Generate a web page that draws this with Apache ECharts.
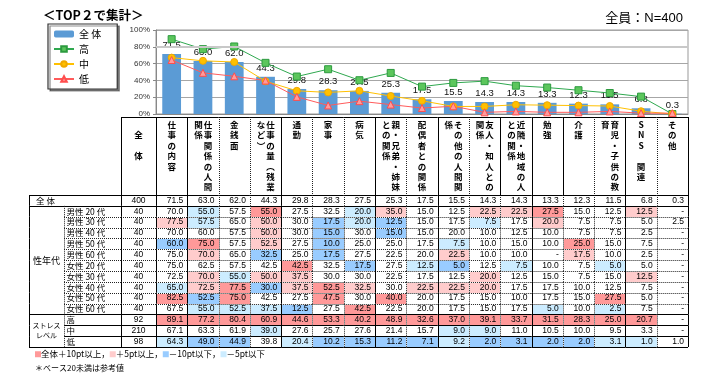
<!DOCTYPE html>
<html><head><meta charset="utf-8">
<script src="https://cdn.jsdelivr.net/npm/echarts@6/dist/echarts.min.js"></script>
<style>html,body{margin:0;padding:0;background:#fff}#c{width:718px;height:373px}</style>
</head><body><div id="c"></div>
<script>
// ---------- DATA ----------
const categories = ['仕事の内容','仕事関係の人間関係','金銭面','仕事の量（残業など）','通勤','家事','病気','親・兄弟・姉妹との関係','配偶者との関係','その他の人間関係','友人・知人との関係','近隣・地域の人との関係','勉強','介護','育児・子供の教育','SNS関連','その他'];
// vertical header text, columns right-to-left
const headerLines = [['仕事の内容'],['仕事関係の人間','関係'],['金銭面'],['仕事の量︵残業','など︶'],['通勤'],['家事'],['病気'],['親・兄弟・姉妹','との関係'],['配偶者との関係'],['その他の人間関','係'],['友人・知人との','関係'],['近隣・地域の人','との関係'],['勉強'],['介護'],['育児・子供の教','育'],['SNS 関連'],['その他']];
const yTickLabels = ['0%','20%','40%','60%','80%','100%'];

const totalAll = [71.5,63.0,62.0,44.3,29.8,28.3,27.5,25.3,17.5,15.5,14.3,14.3,13.3,12.3,11.5,6.8,0.3];
const male20   = [70.0,55.0,57.5,55.0,27.5,32.5,20.0,35.0,15.0,12.5,22.5,22.5,27.5,15.0,12.5,12.5,0];
const male30   = [77.5,57.5,65.0,50.0,30.0,17.5,20.0,12.5,15.0,17.5,7.5,17.5,20.0,7.5,7.5,5.0,2.5];
const male40   = [70.0,60.0,57.5,50.0,30.0,15.0,30.0,15.0,15.0,20.0,10.0,12.5,10.0,7.5,7.5,2.5,0];
const male50   = [60.0,75.0,57.5,52.5,27.5,10.0,25.0,25.0,17.5,7.5,10.0,15.0,10.0,25.0,15.0,7.5,0];
const male60   = [75.0,70.0,65.0,32.5,25.0,17.5,27.5,22.5,20.0,22.5,10.0,10.0,0,17.5,10.0,2.5,0];
const female20 = [75.0,62.5,57.5,42.5,42.5,32.5,17.5,27.5,12.5,5.0,12.5,7.5,10.0,7.5,5.0,5.0,0];
const female30 = [72.5,70.0,55.0,50.0,37.5,30.0,30.0,22.5,17.5,12.5,20.0,12.5,15.0,7.5,15.0,12.5,0];
const female40 = [65.0,72.5,77.5,30.0,37.5,52.5,32.5,30.0,22.5,22.5,20.0,17.5,17.5,10.0,12.5,7.5,0];
const female50 = [82.5,52.5,75.0,42.5,27.5,47.5,30.0,40.0,20.0,17.5,15.0,10.0,17.5,15.0,27.5,5.0,0];
const female60 = [67.5,55.0,52.5,37.5,12.5,27.5,42.5,22.5,20.0,17.5,15.0,17.5,5.0,10.0,2.5,7.5,0];
const stressHigh = [89.1,77.2,80.4,60.9,44.6,53.3,40.2,48.9,32.6,37.0,39.1,33.7,31.5,28.3,25.0,20.7,0];
const stressMid  = [67.1,63.3,61.9,39.0,27.6,25.7,27.6,21.4,15.7,9.0,9.0,11.0,10.5,10.0,9.5,3.3,0];
const stressLow  = [64.3,49.0,44.9,39.8,20.4,10.2,15.3,11.2,7.1,9.2,2.0,3.1,2.0,2.0,3.1,1.0,1.0];

const rowLabels = ['全 体','男性 20 代','男性 30 代','男性 40 代','男性 50 代','男性 60 代','女性 20 代','女性 30 代','女性 40 代','女性 50 代','女性 60 代','高','中','低'];
const rowN = [400,40,40,40,40,40,40,40,40,40,40,92,210,98];
const rowValues = [totalAll,male20,male30,male40,male50,male60,female20,female30,female40,female50,female60,stressHigh,stressMid,stressLow];
const groupNames = ['性年代','ストレス\nレベル'];
const groupFrom = [1,11];
const groupTo = [10,13];

// ---------- STYLE ----------
const JP = '"Noto Sans CJK JP", sans-serif';
const NUM = '"Liberation Sans", "Noto Sans CJK JP", sans-serif';
const C_R10 = '#FF9999', C_R5 = '#FFCCCC', C_B10 = '#99CCFF', C_B5 = '#CCECFF';
const N_W = 35, LABEL_W = 57, GROUP_W = 35;
const headSolid = [0,3,6,8,10,11,12,14,16];
const bodySolid = [0,3,6,8,11,14,16];
const GL = 156, GR = 30;

function hline(x1, x2, y, solid) {
  y = Math.round(y) + 0.5;
  const st = {stroke:'#000', lineWidth:1};
  if (!solid) { st.lineDash = [1,1]; st.stroke = '#222'; }
  return {type:'line', silent:true, shape:{x1:x1, y1:y, x2:x2, y2:y}, style:st};
}
function vline(x, y1, y2, solid) {
  x = Math.round(x) + 0.5;
  const st = {stroke:'#000', lineWidth:1};
  if (!solid) { st.lineDash = [1,1]; st.stroke = '#222'; }
  return {type:'line', silent:true, shape:{x1:x, y1:y1, x2:x, y2:y2}, style:st};
}
function bottomSolid(r) { return r === 0 || r >= 10; }
function cellColor(r, c, v) {
  if (r === 0 || v === 0) return null;
  const d = Math.round((v - totalAll[c]) * 10) / 10;
  if (d >= 10) return C_R10;
  if (d >= 5) return C_R5;
  if (d <= -10) return C_B10;
  if (d <= -5) return C_B5;
  return null;
}

const bodyData = [];
rowValues.forEach((arr, r) => arr.forEach((v, c) => bodyData.push([c, r, v])));

const chart = echarts.init(document.getElementById('c'), null, {renderer:'canvas'});
chart.setOption({
  animation: false,
  backgroundColor: '#fff',
  title: [
    {text:'＜TOP２で集計＞', left:38, top:4, textStyle:{fontFamily:JP, fontSize:12.5, fontWeight:'bold', color:'#000'}},
    {text:'全員：N=400', right:30, top:7, textStyle:{fontFamily:NUM, fontSize:13, fontWeight:'normal', color:'#000'}},
    {text:'{a|}全体＋10pt以上，{b|}＋5pt以上，{c|}－10pt以下，{d|}－5pt以下', left:30, top:345,
     textStyle:{fontFamily:JP, fontSize:8.5, fontWeight:'normal', color:'#000', rich:{
       a:{backgroundColor:C_R10, width:6, height:6},
       b:{backgroundColor:C_R5, width:6, height:6},
       c:{backgroundColor:C_B10, width:6, height:6},
       d:{backgroundColor:C_B5, width:6, height:6}}}},
    {text:'＊ベース20未満は参考値', left:30, top:359, textStyle:{fontFamily:JP, fontSize:8, fontWeight:'normal', color:'#000'}}
  ],
  legend: {
    orient:'vertical', left:48, top:24, data:['全 体','高','中','低'],
    itemWidth:20, itemHeight:7, itemGap:3, padding:[4,16,4,5],
    borderColor:'#333', borderWidth:1.2, backgroundColor:'#fff',
    shadowColor:'rgba(0,0,0,0.45)', shadowOffsetX:2, shadowOffsetY:2, shadowBlur:0,
    textStyle:{fontFamily:JP, fontSize:10, lineHeight:12, color:'#000'}
  },
  grid: [
    {left:GL, right:GR, top:30, height:84, show:true, borderColor:'#999', borderWidth:1},
    {left:GL, right:GR, top:117, height:78},
    {left:GL, right:GR, top:195, height:152}
  ],
  xAxis: [
    {type:'category', gridIndex:0, data:categories, axisLabel:{show:false}, axisTick:{show:false}, axisLine:{lineStyle:{color:'#888'}}},
    {type:'category', gridIndex:1, data:categories, show:false},
    {type:'category', gridIndex:2, data:categories, show:false}
  ],
  yAxis: [
    {type:'value', gridIndex:0, min:0, max:100, interval:20,
     axisLabel:{fontFamily:NUM, fontSize:8, color:'#333', margin:6, formatter:(v)=>yTickLabels[v/20]},
     axisLine:{show:true, lineStyle:{color:'#888'}}, axisTick:{show:true, length:3, lineStyle:{color:'#888'}},
     splitLine:{lineStyle:{color:'#A6A6A6', width:1}}},
    {type:'category', gridIndex:1, data:['header'], show:false},
    {type:'category', gridIndex:2, data:rowLabels, inverse:true, show:false}
  ],
  series: [
    {name:'全 体', type:'bar', xAxisIndex:0, yAxisIndex:0, data:totalAll, barWidth:'60%',
     itemStyle:{color:'#5B9BD5'},
     label:{show:true, position:'top', distance:4, fontFamily:NUM, fontSize:9.5, color:'#111', formatter:(p)=>p.value.toFixed(1)},
     markLine:{silent:true, symbol:'none', label:{show:false}, lineStyle:{color:'#C8C8C8', width:2, type:'solid'}, data:[{yAxis:80}]},
     z:2},
    {name:'高', type:'line', xAxisIndex:0, yAxisIndex:0, data:stressHigh, symbol:'rect', symbolSize:7,
     lineStyle:{color:'#2FA84F', width:1}, itemStyle:{color:'#5CC65C', borderColor:'#2C9A3F', borderWidth:1}, z:4},
    {name:'中', type:'line', xAxisIndex:0, yAxisIndex:0, data:stressMid, symbol:'circle', symbolSize:7,
     lineStyle:{color:'#FFC000', width:1}, itemStyle:{color:'#FFC000', borderColor:'#F0A800', borderWidth:1}, z:4},
    {name:'低', type:'line', xAxisIndex:0, yAxisIndex:0, data:stressLow, symbol:'triangle', symbolSize:7,
     lineStyle:{color:'#FF5B5B', width:1}, itemStyle:{color:'#FF9C9C', borderColor:'#FF4D4D', borderWidth:1}, z:4},
    // header cells
    {type:'custom', xAxisIndex:1, yAxisIndex:1, silent:true, z:5,
     data: categories.map((c, i) => [i, 0]),
     renderItem: function(params, api) {
       const i = api.value(0);
       const p = api.coord([i, 0]); const s = api.size([1, 1]);
       const x0 = p[0] - s[0]/2, y0 = p[1] - s[1]/2, w = s[0], h = s[1];
       const ch = [];
       const cols = headerLines[i];
       const xs = cols.length === 1 ? [p[0]] : [p[0] + 5, p[0] - 4.5];
       cols.forEach((t, k) => {
         ch.push({type:'text', style:{x:xs[k], y:y0 + 2.5, text:t.split('').join('\n'), align:'center', verticalAlign:'top',
           fontFamily:JP, fontSize:8.5, fontWeight:'bold', lineHeight:10.4, fill:'#000'}});
       });
       ch.push(hline(x0, x0 + w, y0, true));
       ch.push(vline(x0 + w, y0, y0 + h, headSolid.indexOf(i) >= 0));
       if (i === 0) {
         const xn = x0 - N_W;
         ch.push(hline(xn, x0, y0, true));
         ch.push(vline(xn, y0, y0 + h, true));
         ch.push(vline(x0, y0, y0 + h, true));
         ch.push({type:'text', style:{x:xn + N_W/2, y:y0 + 2.5, text:'\n全\n\n体', align:'center', verticalAlign:'top',
           fontFamily:JP, fontSize:8.5, fontWeight:'bold', lineHeight:10.4, fill:'#000'}});
       }
       return {type:'group', children:ch};
     }},
    // row heads (group, label, N)
    {type:'custom', xAxisIndex:2, yAxisIndex:2, silent:true, z:5,
     data: rowLabels.map((l, r) => [0, r]),
     renderItem: function(params, api) {
       const r = api.value(1);
       const p = api.coord([0, r]); const s = api.size([1, 1]);
       const xg = p[0] - s[0]/2, y0 = p[1] - s[1]/2, h = s[1];
       const xN = xg - N_W, xL = xN - LABEL_W, xG = xL - GROUP_W;
       const ch = [];
       const bs = bottomSolid(r);
       ch.push({type:'text', style:{x:xN + N_W/2, y:p[1], text:String(rowN[r]), align:'center', verticalAlign:'middle', fontFamily:NUM, fontSize:8.5, fill:'#000'}});
       ch.push(vline(xN, y0, y0 + h, true));
       ch.push(vline(xg, y0, y0 + h, true));
       ch.push(hline(xN, xg, y0 + h, bs));
       ch.push(vline(xG, y0, y0 + h, true));
       if (r === 0) {
         ch.push(hline(xG, xg, y0, true));
         ch.push(hline(xG, xN, y0 + h, true));
         ch.push({type:'text', style:{x:xG + 7, y:p[1], text:rowLabels[r], align:'left', verticalAlign:'middle', fontFamily:JP, fontSize:8.5, fill:'#000'}});
       } else {
         ch.push({type:'text', style:{x:xL + 2.5, y:p[1], text:rowLabels[r], align:'left', verticalAlign:'middle', fontFamily:JP, fontSize:8.5, fill:'#000'}});
         ch.push(vline(xL, y0, y0 + h, false));
         ch.push(hline(xL, xN, y0 + h, bs));
         const gi = groupFrom.indexOf(r);
         if (gi >= 0) {
           const span = (groupTo[gi] - groupFrom[gi] + 1) * h;
           const two = groupNames[gi].indexOf('\n') >= 0;
           ch.push({type:'text', style:{x:xG + GROUP_W/2, y:y0 + span/2, text:groupNames[gi], align:'center', verticalAlign:'middle',
             fontFamily:JP, fontSize: two ? 7 : 9, lineHeight: two ? 10 : 12, fill:'#000'}});
         }
         if (groupTo.indexOf(r) >= 0) ch.push(hline(xG, xL, y0 + h, true));
       }
       return {type:'group', children:ch};
     }},
    // value cells
    {type:'custom', xAxisIndex:2, yAxisIndex:2, silent:true, z:5,
     data: bodyData,
     renderItem: function(params, api) {
       const c = api.value(0), r = api.value(1), v = api.value(2);
       const p = api.coord([c, r]); const s = api.size([1, 1]);
       const x0 = p[0] - s[0]/2, y0 = p[1] - s[1]/2, w = s[0], h = s[1];
       const ch = [];
       const col = cellColor(r, c, v);
       if (col) ch.push({type:'rect', shape:{x:Math.round(x0)+1, y:Math.round(y0)+1, width:Math.round(x0+w)-Math.round(x0)-1, height:Math.round(y0+h)-Math.round(y0)-1}, style:{fill:col}});
       ch.push(vline(x0 + w, y0, y0 + h, bodySolid.indexOf(c) >= 0));
       ch.push(hline(x0, x0 + w, y0 + h, bottomSolid(r)));
       if (r === 0) ch.push(hline(x0, x0 + w, y0, true));
       ch.push({type:'text', style:{x:x0 + w - 4, y:p[1], text: v === 0 ? '-' : v.toFixed(1), align:'right', verticalAlign:'middle', fontFamily:NUM, fontSize:8.5, fill:'#000'}});
       return {type:'group', children:ch};
     }}
  ]
});
</script></body></html>
